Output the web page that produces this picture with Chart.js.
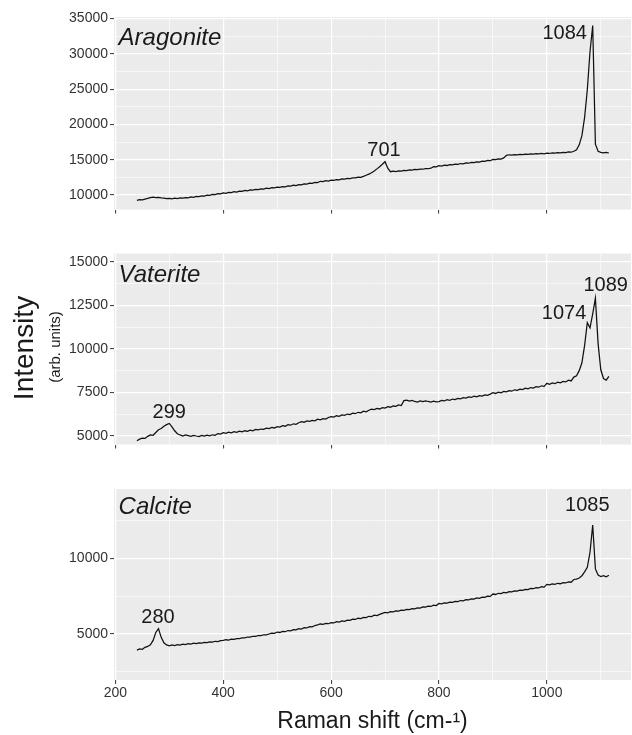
<!DOCTYPE html>
<html lang="en">
<head>
  <meta charset="UTF-8">
  <title>Raman spectra</title>
  <script src="https://cdn.jsdelivr.net/npm/chart.js"></script>
  <style>
    body {
      margin: 0;
      background: #fff;
      font-family: 'Liberation Sans', Arial, Helvetica, sans-serif;
    }
    .figure {
      position: relative;
      width: 632px;
      height: 735px;
      background: #fff;
    }
    .figure canvas {
      position: absolute;
      left: 0;
    }
    .ytitle {
      position: absolute;
      white-space: nowrap;
      line-height: 1;
      color: #1a1a1a;
      transform: translate(-50%, -50%) rotate(-90deg);
    }
  </style>
</head>
<body>

<div class="figure">
  <canvas id="aragonite" width="632" height="232" style="top:0"></canvas>
  <canvas id="vaterite" width="632" height="236" style="top:232px"></canvas>
  <canvas id="calcite" width="632" height="267" style="top:468px"></canvas>
  <div class="ytitle" style="left:23.6px; top:348px; font-size:28px">Intensity</div>
  <div class="ytitle" style="left:54px; top:347px; font-size:15px">(arb. units)</div>
</div>

<script>
// Raman shift (cm-1) sampling
const waveNumbers = [
  240, 245, 250, 255, 260, 265, 270, 275, 280, 285,
  290, 295, 300, 305, 310, 315, 320, 325, 330, 335,
  340, 345, 350, 355, 360, 365, 370, 375, 380, 385,
  390, 395, 400, 405, 410, 415, 420, 425, 430, 435,
  440, 445, 450, 455, 460, 465, 470, 475, 480, 485,
  490, 495, 500, 505, 510, 515, 520, 525, 530, 535,
  540, 545, 550, 555, 560, 565, 570, 575, 580, 585,
  590, 595, 600, 605, 610, 615, 620, 625, 630, 635,
  640, 645, 650, 655, 660, 665, 670, 675, 680, 685,
  690, 695, 700, 705, 710, 715, 720, 725, 730, 735,
  740, 745, 750, 755, 760, 765, 770, 775, 780, 785,
  790, 795, 800, 805, 810, 815, 820, 825, 830, 835,
  840, 845, 850, 855, 860, 865, 870, 875, 880, 885,
  890, 895, 900, 905, 910, 915, 920, 925, 930, 935,
  940, 945, 950, 955, 960, 965, 970, 975, 980, 985,
  990, 995, 1000, 1005, 1010, 1015, 1020, 1025, 1030, 1035,
  1040, 1045, 1050, 1055, 1060, 1065, 1070, 1075, 1080, 1085,
  1090, 1095, 1100, 1105, 1110, 1115
];

const aragonite = [
  9250, 9330, 9300, 9420, 9510, 9640, 9700, 9620, 9680, 9610,
  9560, 9480, 9530, 9460, 9540, 9500, 9590, 9550, 9640, 9610,
  9720, 9680, 9790, 9760, 9880, 9850, 9990, 9960, 10080, 10050,
  10180, 10150, 10300, 10240, 10380, 10350, 10470, 10420, 10560, 10520,
  10640, 10600, 10720, 10690, 10800, 10760, 10880, 10840, 10960, 10920,
  11050, 11000, 11120, 11080, 11200, 11160, 11280, 11250, 11380, 11330,
  11470, 11430, 11580, 11540, 11680, 11650, 11800, 11760, 11940, 11900,
  12020, 11980, 12100, 12060, 12180, 12140, 12280, 12240, 12360, 12330,
  12440, 12420, 12540, 12500, 12640, 12800, 12950, 13150, 13400, 13700,
  14000, 14350, 14720, 13800, 13300, 13380, 13320, 13420, 13380, 13480,
  13450, 13560, 13520, 13620, 13590, 13680, 13650, 13740, 13720, 13800,
  14020, 13980, 14150, 14100, 14220, 14180, 14300, 14260, 14380, 14340,
  14460, 14420, 14540, 14500, 14620, 14580, 14700, 14660, 14800, 14760,
  14900, 14860, 15050, 15000, 15120, 15080, 15250, 15620, 15700, 15650,
  15720, 15680, 15760, 15720, 15800, 15760, 15840, 15790, 15860, 15820,
  15880, 15840, 15920, 15880, 15960, 15920, 16000, 15960, 16050, 16000,
  16100, 16060, 16200, 16400, 17100, 18400, 21000, 24900, 30300, 34000,
  17200, 16200, 16050, 15980, 16020, 15950
];

const vaterite = [
  4730, 4820, 4880, 4860, 4980, 5060, 5040, 5200, 5360, 5430,
  5560, 5650, 5720, 5520, 5300, 5130, 5060, 5000, 5060, 5020,
  4980, 5040, 5000, 4970, 5030, 4990, 5050, 5010, 5070, 5040,
  5140, 5110, 5190, 5150, 5220, 5180, 5250, 5210, 5280, 5240,
  5300, 5270, 5340, 5300, 5380, 5350, 5400, 5380, 5450, 5420,
  5490, 5460, 5540, 5510, 5590, 5560, 5650, 5620, 5700, 5670,
  5760, 5820, 5790, 5860, 5840, 5900, 5870, 5960, 5930, 6000,
  5970, 6060, 6110, 6080, 6160, 6130, 6210, 6180, 6260, 6230,
  6310, 6280, 6360, 6330, 6420, 6390, 6480, 6540, 6510, 6580,
  6550, 6630, 6600, 6680, 6650, 6720, 6700, 6780, 6750, 7030,
  7060, 7000, 7040, 6980, 6950, 7010, 6970, 7020, 6980, 6950,
  7000, 6960, 6970, 7040, 7010, 7080, 7050, 7120, 7090, 7160,
  7130, 7200, 7170, 7240, 7210, 7280, 7250, 7320, 7290, 7360,
  7330, 7400, 7480, 7440, 7520, 7480, 7560, 7530, 7600, 7570,
  7650, 7620, 7690, 7660, 7740, 7710, 7780, 7750, 7830, 7800,
  7880, 7850, 8020, 7960, 8040, 8000, 8090, 8050, 8130, 8100,
  8200, 8160, 8380, 8450, 8750, 9200, 10200, 11500, 11200, 12000,
  12900, 10300, 8800, 8300, 8200, 8420
];

const calcite = [
  3940, 4010, 3990, 4120, 4180, 4290, 4580, 5100, 5360, 4780,
  4420, 4280, 4220, 4280, 4230, 4290, 4260, 4330, 4300, 4360,
  4330, 4390, 4360, 4420, 4400, 4450, 4430, 4480, 4460, 4520,
  4500, 4560, 4580, 4620, 4600, 4660, 4640, 4700, 4690, 4750,
  4740, 4800, 4790, 4850, 4840, 4900, 4890, 4950, 4940, 5000,
  5060, 5040, 5130, 5100, 5170, 5150, 5230, 5210, 5290, 5270,
  5350, 5330, 5420, 5400, 5490, 5470, 5560, 5600, 5660, 5640,
  5700, 5680, 5750, 5730, 5810, 5790, 5860, 5840, 5920, 5900,
  5980, 5960, 6040, 6020, 6100, 6080, 6170, 6150, 6240, 6220,
  6300, 6360, 6420, 6400, 6480, 6460, 6530, 6510, 6580, 6560,
  6630, 6610, 6680, 6660, 6730, 6710, 6790, 6770, 6840, 6820,
  6900, 6880, 7020, 6990, 7060, 7040, 7110, 7090, 7160, 7140,
  7210, 7190, 7270, 7250, 7320, 7300, 7380, 7360, 7440, 7420,
  7500, 7480, 7640, 7610, 7690, 7670, 7750, 7720, 7800, 7780,
  7850, 7830, 7900, 7880, 7950, 7930, 8010, 7990, 8060, 8040,
  8120, 8100, 8280, 8240, 8310, 8280, 8350, 8320, 8390, 8370,
  8440, 8420, 8600, 8620, 8700, 8850, 9100, 9400, 10400, 12200,
  9300, 8900, 8790, 8850, 8780, 8880
];

// peak labels (text, position in data units)
const aragonitePeaks = ['701', '1084'];
const aragonitePeakX = [698, 1033];
const aragonitePeakY = [16260, 32840];
const vateritePeaks = ['299', '1074', '1089'];
const vateritePeakX = [300, 1032, 1109];
const vateritePeakY = [6348, 12028, 13663];
const calcitePeaks = ['280', '1085'];
const calcitePeakX = [279, 1075];
const calcitePeakY = [6090, 13467];

// axis ticks
const xMajor = [200, 400, 600, 800, 1000];
const xMinor = [300, 500, 700, 900, 1100];
const aragoniteMajor = [10000, 15000, 20000, 25000, 30000, 35000];
const aragoniteMinor = [12500, 17500, 22500, 27500, 32500];
const vateriteMajor = [5000, 7500, 10000, 12500, 15000];
const vateriteMinor = [6250, 8750, 11250, 13750];
const calciteMajor = [5000, 10000];
const calciteMinor = [2500, 7500, 12500];

const FONT = "'Liberation Sans', Arial, Helvetica, sans-serif";

const panelDecor = {
  id: 'panelDecor',
  beforeDraw(chart) {
    const {ctx, chartArea: a} = chart;
    ctx.save();
    ctx.fillStyle = '#ebebeb';
    ctx.fillRect(a.left, a.top, a.right - a.left, a.bottom - a.top);
    ctx.restore();
  },
  afterDatasetsDraw(chart, args, opts) {
    const {ctx} = chart;
    const x = chart.scales.x, y = chart.scales.y;
    ctx.save();
    ctx.fillStyle = '#1a1a1a';
    ctx.font = 'italic 24px ' + FONT;
    ctx.textAlign = 'left';
    ctx.textBaseline = 'alphabetic';
    ctx.fillText(opts.name, x.getPixelForValue(opts.nameX), y.getPixelForValue(opts.nameY));
    ctx.font = '20px ' + FONT;
    ctx.textAlign = 'center';
    ctx.textBaseline = 'middle';
    opts.peaks.forEach((t, i) => {
      ctx.fillText(t, x.getPixelForValue(opts.peakX[i]), y.getPixelForValue(opts.peakY[i]));
    });
    ctx.restore();
  }
};

function tickList(major, minor) {
  return major.concat(minor).sort((a, b) => a - b).map(v => ({value: v}));
}

function makePanel(id, cfg) {
  const xTicks = tickList(xMajor, xMinor);
  const yTicks = tickList(cfg.major, cfg.minor);
  return new Chart(document.getElementById(id), {
    type: 'line',
    data: {
      datasets: [{
        data: waveNumbers.map((w, i) => ({x: w, y: cfg.values[i]})),
        borderColor: '#111',
        borderWidth: 1.25,
        pointRadius: 0,
        tension: 0,
        fill: false
      }]
    },
    options: {
      responsive: false,
      animation: false,
      devicePixelRatio: 1,
      layout: {padding: {top: cfg.padTop, right: 1, left: 0, bottom: 0}},
      plugins: {
        legend: {display: false},
        tooltip: {enabled: false},
        panelDecor: {
          name: cfg.name, nameX: 206, nameY: cfg.nameY,
          peaks: cfg.peaks, peakX: cfg.peakX, peakY: cfg.peakY
        }
      },
      scales: {
        x: {
          type: 'linear',
          min: 197.5,
          max: 1156,
          afterBuildTicks: ax => { ax.ticks = xTicks.slice(); },
          afterFit: ax => { ax.height = cfg.xHeight; },
          border: {display: false},
          grid: {
            color: '#fff',
            lineWidth: c => xMajor.includes(c.tick && c.tick.value) ? 1.2 : 0.6,
            tickLength: 4,
            tickWidth: 1,
            tickColor: c => xMajor.includes(c.tick && c.tick.value) ? '#333' : 'rgba(0,0,0,0)'
          },
          ticks: {
            display: cfg.showX,
            autoSkip: false,
            maxRotation: 0,
            padding: 1,
            color: '#333',
            font: {size: 14, family: FONT},
            callback: v => xMajor.includes(v) ? String(v) : ''
          },
          title: {
            display: cfg.showX,
            text: 'Raman shift (cm-¹)',
            color: '#1a1a1a',
            font: {size: 23, family: FONT},
            padding: {top: 0, bottom: 0}
          }
        },
        y: {
          type: 'linear',
          min: cfg.yMin,
          max: cfg.yMax,
          afterBuildTicks: ax => { ax.ticks = yTicks.slice(); },
          afterFit: ax => { ax.width = 114; },
          border: {display: false},
          grid: {
            color: '#fff',
            lineWidth: c => cfg.major.includes(c.tick && c.tick.value) ? 1.2 : 0.6,
            tickLength: 4,
            tickWidth: 1,
            tickColor: c => cfg.major.includes(c.tick && c.tick.value) ? '#333' : 'rgba(0,0,0,0)'
          },
          ticks: {
            autoSkip: false,
            padding: 2,
            color: '#333',
            font: {size: 14, family: FONT},
            callback: v => cfg.major.includes(v) ? String(v) : ''
          }
        }
      }
    },
    plugins: [panelDecor]
  });
}

makePanel('aragonite', {
  values: aragonite, name: 'Aragonite', nameY: 31240,
  peaks: aragonitePeaks, peakX: aragonitePeakX, peakY: aragonitePeakY,
  major: aragoniteMajor, minor: aragoniteMinor,
  yMin: 7947, yMax: 35212, padTop: 17, xHeight: 22.5, showX: false
});

makePanel('vaterite', {
  values: vaterite, name: 'Vaterite', nameY: 13852,
  peaks: vateritePeaks, peakX: vateritePeakX, peakY: vateritePeakY,
  major: vateriteMajor, minor: vateriteMinor,
  yMin: 4512, yMax: 15470, padTop: 21.5, xHeight: 23.5, showX: false
});

makePanel('calcite', {
  values: calcite, name: 'Calcite', nameY: 12926,
  peaks: calcitePeaks, peakX: calcitePeakX, peakY: calcitePeakY,
  major: calciteMajor, minor: calciteMinor,
  yMin: 1962, yMax: 14577, padTop: 21, xHeight: 55, showX: true
});
</script>

</body>
</html>
